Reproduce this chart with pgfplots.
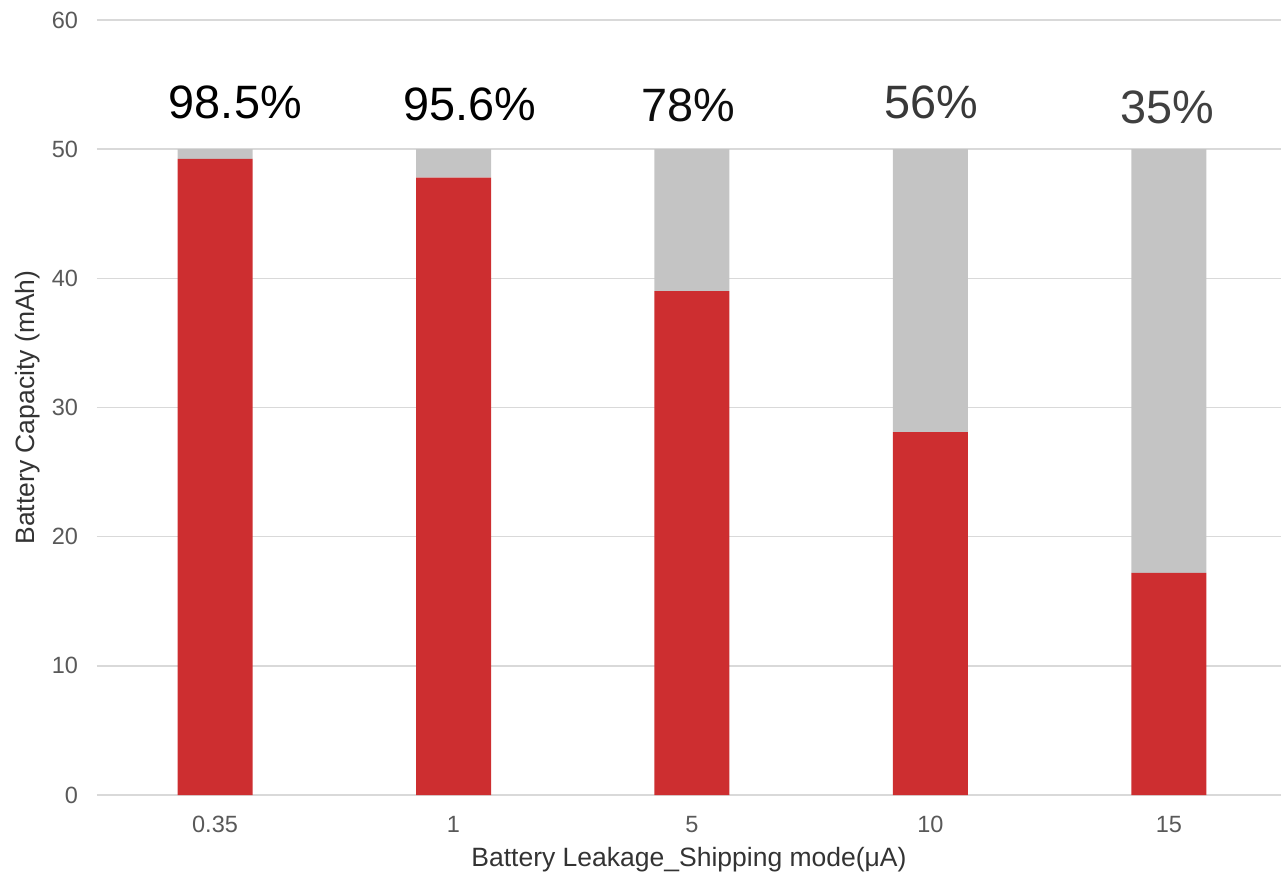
\documentclass[border=0pt]{standalone}
\usepackage{pgfplots}
\pgfplotsset{compat=1.18}
\usepackage{fontspec}
\setmainfont{Liberation Sans}
\definecolor{barred}{HTML}{CD2E30}
\definecolor{bargrey}{HTML}{C4C4C4}
\definecolor{gridc}{HTML}{D9D9D9}
\definecolor{tickc}{HTML}{595959}
\begin{document}
\begin{tikzpicture}
\begin{axis}[
  scale only axis,
  width=592bp, height=387.5bp,
  ybar stacked,
  bar width=37.5bp,
  xmin=-0.495, xmax=4.47,
  ymin=0, ymax=60,
  ytick={0,10,20,30,40,50,60},
  xtick=data,
  xticklabels={0.35,1,5,10,15},
  ymajorgrids,
  grid style={gridc, line width=0.75bp},
  axis x line*=bottom,
  axis y line*=left,
  y axis line style={draw=none},
  x axis line style={gridc, line width=0.75bp, -},
  major tick length=0pt,
  tick label style={font=\fontsize{11.8}{13}\selectfont, text=tickc},
  /pgf/number format/assume math mode=true,
  xticklabel style={yshift=-7bp},
  yticklabel style={xshift=-6bp},
  xlabel={Battery Leakage\_Shipping mode(μA)},
  ylabel={Battery Capacity (mAh)},
  label style={font=\fontsize{13.3}{15}\selectfont, text=black!80},
  xlabel style={at={(axis description cs:0.5,0)}, anchor=center, yshift=-32.5bp},
  ylabel style={at={(axis description cs:0,0.5)}, anchor=center, rotate=0, yshift=34.5bp},
  clip=false,
]
\addplot[fill=barred, draw=none] coordinates {(0,49.25) (1,47.8) (2,39.0) (3,28.1) (4,17.2)};
\addplot[fill=bargrey, draw=none] coordinates {(0,0.75) (1,2.2) (2,11.0) (3,21.9) (4,32.8)};
\node[font=\fontsize{23.5}{26}\selectfont, text=black] at (axis cs:0.085,53.6) {98.5\%};
\node[font=\fontsize{23.5}{26}\selectfont, text=black] at (axis cs:1.07,53.5) {95.6\%};
\node[font=\fontsize{23.5}{26}\selectfont, text=black!95] at (axis cs:1.985,53.4) {78\%};
\node[font=\fontsize{23.5}{26}\selectfont, text=black!78] at (axis cs:3.005,53.6) {56\%};
\node[font=\fontsize{23.5}{26}\selectfont, text=black!75] at (axis cs:3.995,53.2) {35\%};
\end{axis}
\pgfresetboundingbox
\path[use as bounding box] (-48.5bp,-41.5bp) rectangle (592bp,397.5bp);
\end{tikzpicture}
\end{document}
